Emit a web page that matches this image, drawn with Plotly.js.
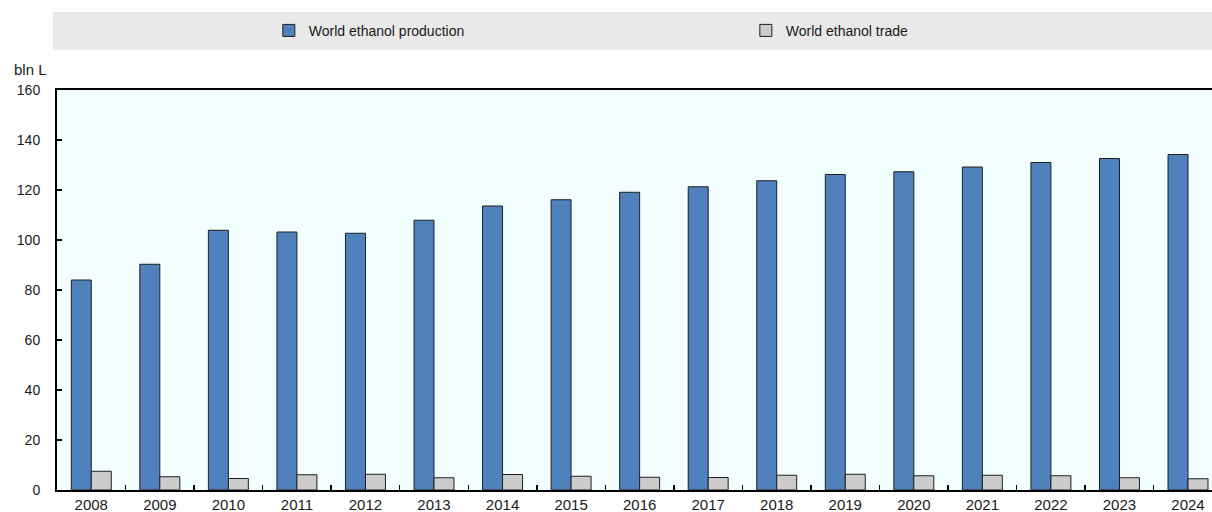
<!DOCTYPE html>
<html>
<head>
<meta charset="utf-8">
<script src="https://cdn.plot.ly/plotly-3.0.1.min.js"></script>
<style>
  html, body { margin: 0; padding: 0; background: #ffffff; overflow: hidden; }
  #chart { width: 1212px; height: 512px; }
</style>
</head>
<body>
<div id="chart"></div>
<script>
const years = ["2008","2009","2010","2011","2012","2013","2014","2015","2016","2017","2018","2019","2020","2021","2022","2023","2024"];
const production = [84.0, 90.3, 103.9, 103.2, 102.7, 107.9, 113.6, 116.1, 119.1, 121.3, 123.7, 126.2, 127.3, 129.2, 131.0, 132.6, 134.2];
const trade = [7.5, 5.3, 4.6, 6.1, 6.3, 4.9, 6.2, 5.5, 5.1, 5.0, 5.9, 6.3, 5.7, 5.9, 5.7, 4.9, 4.5];
const yTicks = [0, 20, 40, 60, 80, 100, 120, 140, 160];

const sans = 'Liberation Sans, Arial, sans-serif';

const traces = [
  {
    type: 'bar', x: years, y: production, name: 'World ethanol production',
    marker: { color: '#4F81BD', line: { color: '#1f1f1f', width: 1 } },
    legend: 'legend'
  },
  {
    type: 'bar', x: years, y: trade, name: 'World ethanol trade',
    marker: { color: '#CCCCCC', line: { color: '#1f1f1f', width: 1 } },
    legend: 'legend2'
  }
];

const layout = {
  width: 1212, height: 512,
  margin: { l: 57, r: 0, t: 90, b: 22, pad: 0 },
  paper_bgcolor: '#ffffff',
  plot_bgcolor: '#F3FEFF',
  barmode: 'group',
  bargap: 0.417,
  bargroupgap: 0,
  font: { family: sans, size: 15, color: '#1a1a1a' },
  xaxis: {
    type: 'category',
    range: [-0.5, 16.35],
    tickson: 'boundaries',
    ticks: 'inside', ticklen: 5, tickwidth: 1.5, tickcolor: '#000',
    showline: true, linecolor: '#000', linewidth: 2, mirror: true,
    showgrid: true, gridcolor: 'rgba(255,255,255,0.9)', gridwidth: 1,
    tickfont: { family: sans, size: 15, color: '#1a1a1a' },
    ticklabelstandoff: 0,
    fixedrange: true
  },
  yaxis: {
    range: [0, 160],
    tickvals: yTicks,
    ticktext: yTicks.map(String),
    ticks: 'inside', ticklen: 5, tickwidth: 1.5, tickcolor: '#000',
    showline: true, linecolor: '#000', linewidth: 2,
    showgrid: false, zeroline: false,
    tickfont: { family: sans, size: 14, color: '#1a1a1a' },
    ticklabelstandoff: 12,
    fixedrange: true
  },
  showlegend: true,
  legend: {
    orientation: 'h', x: 0.1834, y: 1.148, xanchor: 'left', yanchor: 'middle',
    bgcolor: 'rgba(0,0,0,0)', borderwidth: 0,
    font: { family: sans, size: 14, color: '#1a1a1a' },
    itemwidth: 30, itemclick: false, itemdoubleclick: false
  },
  legend2: {
    orientation: 'h', x: 0.5964, y: 1.148, xanchor: 'left', yanchor: 'middle',
    bgcolor: 'rgba(0,0,0,0)', borderwidth: 0,
    font: { family: sans, size: 14, color: '#1a1a1a' },
    itemwidth: 30, itemclick: false, itemdoubleclick: false
  },
  shapes: [
    {
      type: 'rect', xref: 'paper', yref: 'paper', layer: 'below',
      x0: -0.0035, x1: 1.0, y0: 1.1, y1: 1.195,
      fillcolor: '#E9E9E9', line: { width: 0 }
    }
  ],
  annotations: [
    {
      xref: 'paper', yref: 'paper', x: -0.039, y: 1.0525,
      xanchor: 'left', yanchor: 'middle', showarrow: false,
      text: 'bln L', font: { family: sans, size: 15, color: '#1a1a1a' }
    }
  ]
};

Plotly.newPlot('chart', traces, layout, { displayModeBar: false, staticPlot: true });
</script>
</body>
</html>
